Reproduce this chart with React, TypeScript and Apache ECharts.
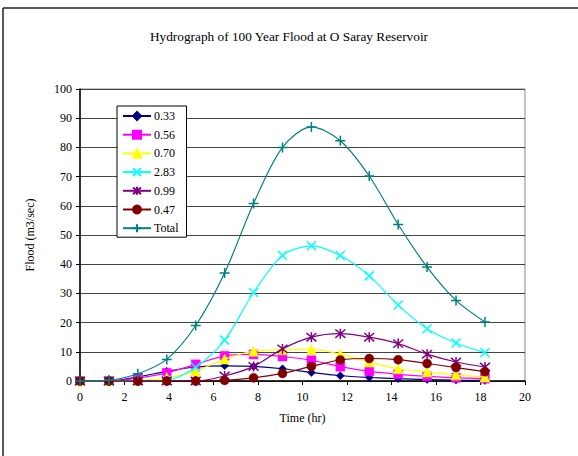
import React, { useEffect, useRef } from "react";
import * as echarts from "echarts";

const time = [0, 1.3, 2.6, 3.9, 5.2, 6.5, 7.8, 9.1, 10.4, 11.7, 13.0, 14.3, 15.6, 16.9, 18.2];
const s033 = [0, 0, 1.4, 3.3, 4.8, 5.2, 5.0, 4.2, 2.9, 1.8, 1.2, 0.8, 0.5, 0.3, 0.2];
const s056 = [0, 0, 1.0, 2.8, 5.7, 8.6, 9.1, 8.4, 7.1, 4.9, 3.3, 2.3, 1.6, 1.1, 0.8];
const s070 = [0, 0, 0.2, 1.2, 3.4, 7.5, 10.2, 10.7, 10.8, 9.2, 6.5, 4.2, 3.1, 2.1, 1.4];
const s283 = [0, 0, 0, 0.3, 4.7, 14, 30.3, 43, 46.3, 43, 36, 26, 17.9, 13, 9.7];
const s099 = [0, 0, 0, 0, 0, 1.7, 5, 11, 15, 16.2, 15, 12.8, 9.2, 6.5, 4.8];
const s047 = [0, 0, 0, 0, 0, 0.2, 1.1, 2.6, 5, 7.2, 7.7, 7.3, 6, 4.6, 3.2];
const total = [0, 0.3, 2.5, 7.4, 19, 37, 60.8, 80, 87, 82.3, 70.2, 53.6, 39, 27.6, 20.2];

const seriesNames = ["0.33", "0.56", "0.70", "2.83", "0.99", "0.47", "Total"];
const seriesValues = [s033, s056, s070, s283, s099, s047, total];
const seriesColors = ["#000080", "#FF00FF", "#FFFF00", "#00FFFF", "#800080", "#800000", "#008080"];
const seriesSymbols = [
  "diamond",
  "rect",
  "triangle",
  "path://M0,0L10,10M10,0L0,10",
  "path://M0,0L10,10M10,0L0,10M5,-1L5,11",
  "circle",
  "path://M5,0L5,10M0,5L10,5",
];
const seriesSymbolSizes = [8, 9, 10, 9, 10, 9, 10];

const FONT = "Liberation Serif";

export default function App() {
  const ref = useRef<HTMLDivElement>(null);
  useEffect(() => {
    document.body.style.margin = "0";
    if (!ref.current) return;
    const chart = echarts.init(ref.current, null, { renderer: "svg" });
    const series = seriesNames.map((name, i) => ({
      name,
      type: "line",
      data: time.map((t, j) => [t, seriesValues[i][j]]),
      smooth: 0.3,
      symbol: seriesSymbols[i],
      symbolSize: seriesSymbolSizes[i],
      showAllSymbol: true,
      lineStyle: { color: seriesColors[i], width: 1.2 },
      itemStyle: {
        color: seriesColors[i],
        borderColor: seriesColors[i],
        borderWidth: i === 3 || i === 4 || i === 6 ? 1.5 : 0.5,
      },
      emphasis: { disabled: true },
      z: 2 + i,
    }));
    chart.setOption({
      animation: false,
      backgroundColor: "#ffffff",
      textStyle: { fontFamily: FONT, color: "#000" },
      title: {
        text: "Hydrograph of 100 Year Flood at O Saray Reservoir",
        left: "center",
        top: 25,
        textStyle: { fontFamily: FONT, fontSize: 13.3, fontWeight: "normal", color: "#000" },
      },
      legend: {
        orient: "vertical",
        left: 117,
        top: 106,
        itemWidth: 28,
        itemHeight: 10,
        itemGap: 6.7,
        padding: [4, 8, 3, 5],
        borderColor: "#000",
        borderWidth: 1,
        backgroundColor: "#fff",
        textStyle: { fontFamily: FONT, fontSize: 12, lineHeight: 12, color: "#000", padding: [0, 0, 0, -2] },
        data: seriesNames,
        z: 20,
      },
      grid: {
        left: 80,
        top: 89,
        width: 445,
        height: 292,
        show: true,
        borderColor: "#888",
        borderWidth: 1,
        backgroundColor: "transparent",
      },
      xAxis: {
        type: "value",
        min: 0,
        max: 20,
        interval: 2,
        name: "Time (hr)",
        nameLocation: "middle",
        nameGap: 31,
        nameTextStyle: { fontFamily: FONT, fontSize: 12, color: "#000" },
        axisLine: { show: true, lineStyle: { color: "#000", width: 1.5 } },
        axisTick: { show: true, length: 4, lineStyle: { color: "#000" } },
        axisLabel: { fontFamily: FONT, fontSize: 12, color: "#000", margin: 10 },
        splitLine: { show: false },
      },
      yAxis: {
        type: "value",
        min: 0,
        max: 100,
        interval: 10,
        name: "Flood (m3/sec)",
        nameLocation: "middle",
        nameGap: 44,
        nameRotate: 90,
        nameTextStyle: { fontFamily: FONT, fontSize: 12, color: "#000" },
        axisLine: { show: true, lineStyle: { color: "#000", width: 1.5 } },
        axisTick: { show: true, length: 4, lineStyle: { color: "#000" } },
        axisLabel: { fontFamily: FONT, fontSize: 12, color: "#000", margin: 8 },
        splitLine: { show: true, lineStyle: { color: "#444", width: 1 } },
      },
      graphic: [
        { type: "line", shape: { x1: 3, y1: 8, x2: 578, y2: 8 }, style: { stroke: "#222", lineWidth: 1.5 } },
        { type: "line", shape: { x1: 3, y1: 8, x2: 3, y2: 456 }, style: { stroke: "#222", lineWidth: 1.5 } },
      ],
      series,
    });
    return () => chart.dispose();
  }, []);
  return <div ref={ref} style={{ width: 578, height: 456 }} />;
}
